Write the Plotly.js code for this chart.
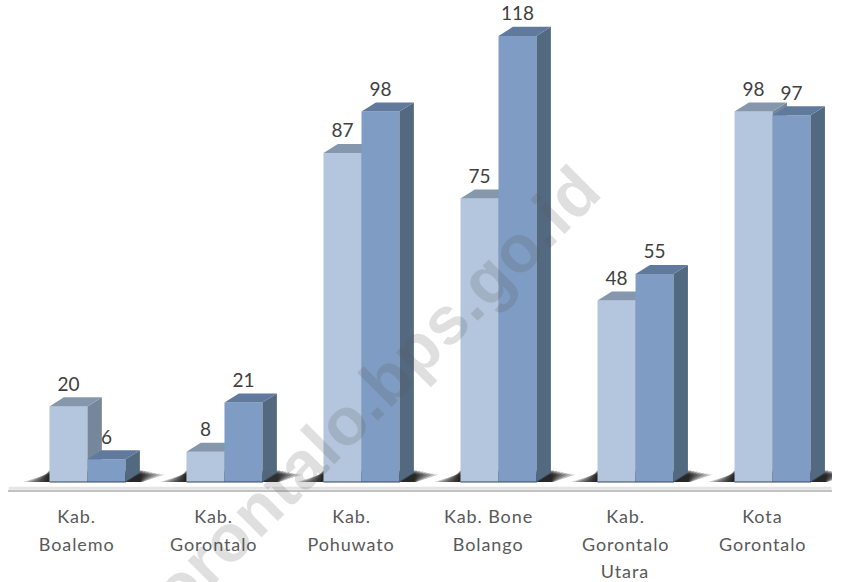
<!DOCTYPE html>
<html><head><meta charset="utf-8">
<script src="https://cdn.plot.ly/plotly-3.0.1.min.js"></script>
<style>html,body{margin:0;padding:0;background:#fff;overflow:hidden}
.annotation text{letter-spacing:0.9px}</style>
</head><body><div id="chart" style="width:843px;height:582px"></div>
<script>
var categoryLines = [["Kab.","Boalemo"],["Kab.","Gorontalo"],["Kab.","Pohuwato"],["Kab. Bone","Bolango"],["Kab.","Gorontalo","Utara"],["Kota","Gorontalo"]];
var seriesA = [20,8,87,75,48,98];
var seriesB = [6,21,98,118,55,97];
var barW = 0.2774, depthX = 0.105, depthY = 2.4, labelLift = 0.5;
var xIdx = categoryLines.map(function(_,i){return i;});
var traces = [];
function poly(xs,ys,color,axis,op){
  traces.push({type:'scatter',mode:'lines',x:xs.concat(xs[0]),y:ys.concat(ys[0]),yaxis:axis,fill:'toself',fillcolor:color,
    line:{width:0},hoverinfo:'skip',showlegend:false,opacity:op===undefined?1:op});
}
// pale floor band above the axis line
traces.push({type:'scatter',mode:'lines',x:[-0.575,5.43],y:[-1.65,-1.65],yaxis:'y',line:{color:'#e4e4e4',width:3},hoverinfo:'skip',showlegend:false});
// soft floor shadow behind each group (bottom layer)
var spreads = [0.19,0.16,0.13,0.10,0.075,0.05,0.025];
xIdx.forEach(function(i){
  var L = i-barW, R = i+barW+depthX;
  spreads.forEach(function(s){
    var t = depthY*1.35*(1-s*2.0);
    poly([L-s*1.0,L-s*0.1,R+s*0.95,R+s*0.1],[0,t,t,0],'#000000','y',0.23);
  });
});
function prism(offset,vals,top,side,axis){
  vals.forEach(function(v,i){
    var l=i+offset, r=l+barW;
    poly([r,r+depthX,r+depthX,r],[0,depthY,v+depthY,v],side,axis);
    poly([l,l+depthX,r+depthX,r],[v,v+depthY,v+depthY,v],top,axis);
  });
}
traces.push({type:'bar',x:xIdx,y:seriesA,yaxis:'y2',width:barW,offset:-barW,marker:{color:'#b3c6dd',line:{width:0}},hoverinfo:'skip',showlegend:false});
prism(-barW,seriesA,'#8497ac','#76879c','y2');
traces.push({type:'bar',x:xIdx,y:seriesB,yaxis:'y3',width:barW,offset:0,marker:{color:'#7f9dc4',line:{width:0}},hoverinfo:'skip',showlegend:false});
prism(0,seriesB,'#5f7a9c','#53697f','y3');
// dark foot edge of each group
xIdx.forEach(function(i){
  traces.push({type:'scatter',mode:'lines',x:[i-barW,i+barW,i+barW+depthX],y:[0,0,depthY],yaxis:'y3',
    line:{color:'#3b4654',width:1},hoverinfo:'skip',showlegend:false});
});
// data labels
function labels(vals,off){
  traces.push({type:'scatter',mode:'text',x:xIdx.map(function(i){return i+off;}),y:vals.map(function(v){return v+depthY+labelLift;}),yaxis:'y3',
    text:vals.map(String),textposition:'top center',textfont:{family:'Lato, sans-serif',size:19,color:'#404040'},cliponaxis:false,hoverinfo:'skip',showlegend:false});
}
labels(seriesA,-barW/2);
labels(seriesB,barW/2);
var anns = [];
categoryLines.forEach(function(lines,i){
  lines.forEach(function(t,k){
    anns.push({xref:'x',yref:'paper',x:i,y:0,xanchor:'center',yanchor:'middle',xshift:-10.5,yshift:-26-k*27.5,showarrow:false,text:t,
      font:{family:'Lato, sans-serif',size:18,color:'#595959'}});
  });
});
anns.push({xref:'paper',yref:'paper',x:0.428,y:0.175,xanchor:'center',yanchor:'middle',showarrow:false,
  text:'gorontalo.bps.go.id',textangle:-45,opacity:0.18,
  font:{family:'Liberation Sans, Arial, sans-serif',size:67,color:'#555555',weight:'bold'}});
var yr = [-2.116,127.5];
var layout = {
  width:843,height:582,paper_bgcolor:'#fff',plot_bgcolor:'rgba(0,0,0,0)',showlegend:false,barmode:'overlay',
  margin:{l:8,r:11,t:0,b:92,pad:0},
  xaxis:{range:[-0.580,5.434],showticklabels:false,ticks:'',showgrid:false,zeroline:false,showline:true,linecolor:'#c2c2c2',linewidth:2},
  yaxis:{range:yr,visible:false,showgrid:false,zeroline:false},
  yaxis2:{range:yr,visible:false,overlaying:'y',showgrid:false,zeroline:false},
  yaxis3:{range:yr,visible:false,overlaying:'y',showgrid:false,zeroline:false},
  annotations:anns
};
Plotly.newPlot('chart',traces,layout,{displayModeBar:false,staticPlot:true});
</script></body></html>
